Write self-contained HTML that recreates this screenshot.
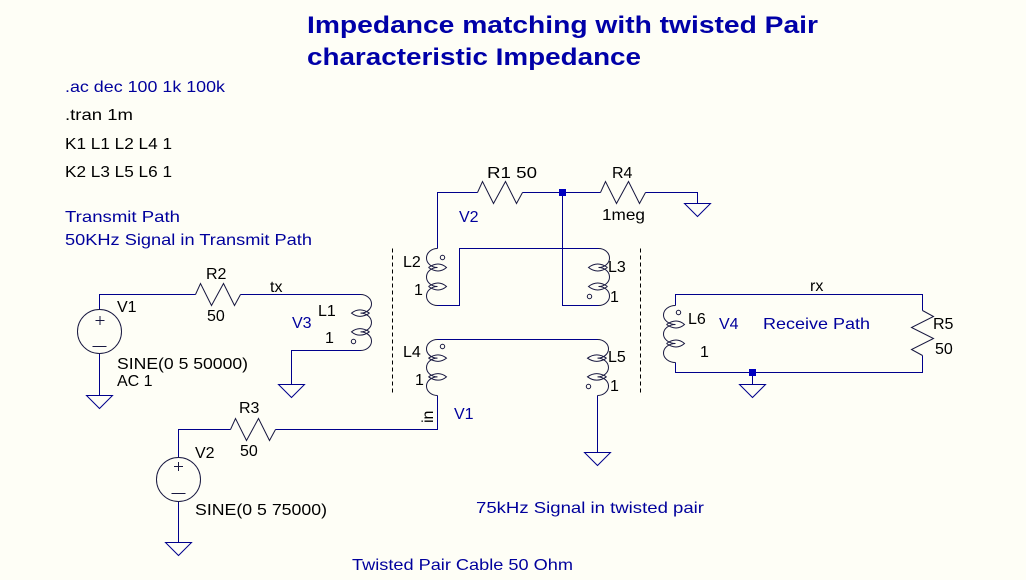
<!DOCTYPE html>
<html><head><meta charset="utf-8"><style>
html,body{margin:0;padding:0;background:#fefef6;}
svg{display:block}
text{font-family:"Liberation Sans",Arial,sans-serif;font-size:16px;fill:#000}
.b{fill:#00009c}
.t{font-weight:bold;font-size:24px;fill:#0000a8}
.w{stroke:#00008c;fill:none;stroke-width:1}
.c{stroke:#181840;fill:none;stroke-width:1}
.d{stroke:#000;fill:none;stroke-width:1;stroke-dasharray:4 3}
</style></head><body>
<svg width="1026" height="580" viewBox="0 0 1026 580" xmlns="http://www.w3.org/2000/svg">
<rect width="1026" height="580" fill="#fefef6"/>

<!-- Title -->
<text class="t" x="307" y="33" textLength="511" lengthAdjust="spacingAndGlyphs">Impedance matching with twisted Pair</text>
<text class="t" x="307" y="65" textLength="334" lengthAdjust="spacingAndGlyphs">characteristic Impedance</text>

<!-- Directives / comments -->
<text class="b" x="65" y="92" textLength="160" lengthAdjust="spacingAndGlyphs">.ac dec 100 1k 100k</text>
<text x="65" y="120" textLength="68" lengthAdjust="spacingAndGlyphs">.tran 1m</text>
<text x="65" y="149" textLength="107" lengthAdjust="spacingAndGlyphs">K1 L1 L2 L4 1</text>
<text x="65" y="177" textLength="107" lengthAdjust="spacingAndGlyphs">K2 L3 L5 L6 1</text>
<text class="b" x="65" y="222" textLength="115" lengthAdjust="spacingAndGlyphs">Transmit Path</text>
<text class="b" x="65" y="245" textLength="247" lengthAdjust="spacingAndGlyphs">50KHz Signal in Transmit Path</text>
<text class="b" x="476" y="513" textLength="228" lengthAdjust="spacingAndGlyphs">75kHz Signal in twisted pair</text>
<text class="b" x="352" y="570" textLength="221" lengthAdjust="spacingAndGlyphs">Twisted Pair Cable 50 Ohm</text>

<g transform="translate(0.5,0.5)">
<!-- Wires -->
<path class="w" d="M99,309 V294 H195 M240,294 H360 M360,350 H291 V384 M99,353 V395"/>
<path class="w" d="M178,457 V429 H230 M275,429 H437 V395 M178,501 V542"/>
<path class="w" d="M437,248 V192 H477 M522,192 H600 M645,192 H697 V203"/>
<path class="w" d="M437,305 H459 V248 H598 M598,305 H562 V192"/>
<path class="w" d="M437,339 H597 M597,395 V452"/>
<path class="w" d="M675,305 V294 H922 V310 M922,355 V372 H675 V362 M752,372 V384"/>

<!-- Junction dots -->
<rect x="558.5" y="188.5" width="7" height="7" fill="#0000c0" stroke="none"/>
<rect x="748.5" y="368.5" width="7" height="7" fill="#0000c0" stroke="none"/>

<!-- Grounds -->
<path class="w" d="M86,395 H112 L99,408 Z"/>
<path class="w" d="M278,384 H304 L291,397 Z"/>
<path class="w" d="M165,542 H191 L178,555 Z"/>
<path class="w" d="M684,203 H710 L697,216 Z"/>
<path class="w" d="M584,452 H610 L597,465 Z"/>
<path class="w" d="M739,384 H765 L752,397 Z"/>

<!-- Dashed transformer cores -->
<path class="d" d="M392,248 V395 M640,248 V395"/>

<!-- Resistors -->
<path class="c" d="M195,294 L200,283 L211,305 L223,283 L234,305 L240,294"/>
<path class="c" d="M230,429 L235,418 L246,440 L258,418 L269,440 L275,429"/>
<path class="c" d="M477,192 L482,181 L493,203 L505,181 L516,203 L522,192"/>
<path class="c" d="M600,192 L605,181 L616,203 L628,181 L639,203 L645,192"/>
<path class="c" d="M922,310 L933,316 L911,327 L933,338 L911,349 L922,355"/>

<!-- Voltage sources -->
<circle class="c" cx="99" cy="331" r="22"/>
<path class="c" d="M95,320 H104 M99.5,315.5 V324.5 M92,346 H106"/>
<circle class="c" cx="178" cy="479" r="22"/>
<path class="c" d="M173.5,466 H182.5 M178,461.5 V470.5 M171,493 H185"/>

<!-- L1 (bulge right) X=360 T=294 B=350 -->
<path class="c" d="M360,294 A11,9.33 0 0 1 360,312.67 A11,9.33 0 0 1 360,331.33 A11,9.33 0 0 1 360,350"/>
<path class="c" d="M369,312.67 Q359,306 351,312.67 Q359,319 369,312.67 M369,331.33 Q359,325 351,331.33 Q359,338 369,331.33"/>
<circle class="c" cx="353" cy="341" r="2.2"/>

<!-- L2 (bulge left) X=437 T=248 B=305 -->
<path class="c" d="M437,248 A11,9.5 0 0 0 437,267 A11,9.5 0 0 0 437,286 A11,9.5 0 0 0 437,305"/>
<path class="c" d="M428,267 Q438,260 446,267 Q438,274 428,267 M428,286 Q438,279 446,286 Q438,293 428,286"/>
<circle class="c" cx="442" cy="257" r="2.2"/>

<!-- L3 (bulge right) X=598 T=248 B=305 -->
<path class="c" d="M598,248 A11,9.5 0 0 1 598,267 A11,9.5 0 0 1 598,286 A11,9.5 0 0 1 598,305"/>
<path class="c" d="M607,267 Q597,260 588,267 Q597,274 607,267 M607,286 Q597,279 588,286 Q597,293 607,286"/>
<circle class="c" cx="589" cy="296" r="2.2"/>

<!-- L4 (bulge left) X=437 T=339 B=395 -->
<path class="c" d="M437,339 A11,9.33 0 0 0 437,357.67 A11,9.33 0 0 0 437,376.33 A11,9.33 0 0 0 437,395"/>
<path class="c" d="M428,357.67 Q438,351 446,357.67 Q438,364 428,357.67 M428,376.33 Q438,370 446,376.33 Q438,383 428,376.33"/>
<circle class="c" cx="442" cy="346" r="2.2"/>

<!-- L5 (bulge right) X=597 T=339 B=395 -->
<path class="c" d="M597,339 A11,9.33 0 0 1 597,357.67 A11,9.33 0 0 1 597,376.33 A11,9.33 0 0 1 597,395"/>
<path class="c" d="M606,357.67 Q596,351 587,357.67 Q596,364 606,357.67 M606,376.33 Q596,370 587,376.33 Q596,383 606,376.33"/>
<circle class="c" cx="588" cy="386" r="2.2"/>

<!-- L6 (bulge left) X=675 T=305 B=362 -->
<path class="c" d="M675,305 A12,9.5 0 0 0 675,324 A12,9.5 0 0 0 675,343 A12,9.5 0 0 0 675,362"/>
<path class="c" d="M666,324 Q676,317 684,324 Q676,331 666,324 M666,343 Q676,336 684,343 Q676,350 666,343"/>
<circle class="c" cx="678" cy="312" r="2.2"/>
</g>

<!-- Component labels -->
<text x="117" y="312">V1</text>
<text x="117" y="369" textLength="131" lengthAdjust="spacingAndGlyphs">SINE(0 5 50000)</text>
<text x="117" y="386">AC 1</text>
<text x="206" y="279">R2</text>
<text x="207" y="321">50</text>
<text x="270" y="292">tx</text>
<text x="318" y="316">L1</text>
<text class="b" x="292" y="328">V3</text>
<text x="325" y="343">1</text>

<text x="239" y="413">R3</text>
<text x="240" y="456">50</text>
<text x="433" y="423" transform="rotate(-90 433 423)">in</text>
<text class="b" x="454" y="419">V1</text>
<text x="195" y="458">V2</text>
<text x="195" y="515" textLength="132" lengthAdjust="spacingAndGlyphs">SINE(0 5 75000)</text>

<text x="487" y="178" textLength="50" lengthAdjust="spacingAndGlyphs">R1 50</text>
<text x="612" y="178">R4</text>
<text x="602" y="220" textLength="43" lengthAdjust="spacingAndGlyphs">1meg</text>
<text class="b" x="459" y="222">V2</text>
<text x="403" y="267">L2</text>
<text x="414" y="295">1</text>
<text x="608" y="272">L3</text>
<text x="610" y="302">1</text>
<text x="403" y="357">L4</text>
<text x="415" y="385">1</text>
<text x="608" y="362">L5</text>
<text x="610" y="391">1</text>

<text x="688" y="324">L6</text>
<text x="700" y="357">1</text>
<text class="b" x="719" y="329">V4</text>
<text class="b" x="763" y="329" textLength="107" lengthAdjust="spacingAndGlyphs">Receive Path</text>
<text x="810" y="291">rx</text>
<text x="933" y="329">R5</text>
<text x="935" y="354">50</text>
</svg>
</body></html>
